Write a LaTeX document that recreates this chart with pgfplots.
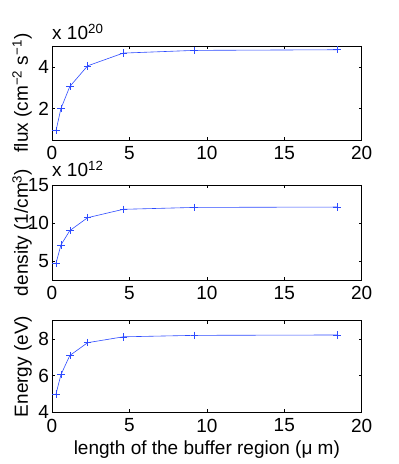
\documentclass[border=0pt]{standalone}
\usepackage{fontspec}
\setmainfont{Liberation Sans}
\usepackage{pgfplots}
\pgfplotsset{compat=1.18}
\definecolor{matblue}{RGB}{45,75,255}

% buffer length (um) and the three quantities
\pgfplotstableread{
x      flux  dens   en
0.26   0.95  4.70   5.00
0.575  2.00  7.10   6.05
1.15   3.06  9.00   7.10
2.30   4.05  10.70  7.80
4.60   4.66  11.80  8.12
9.20   4.79  12.05  8.20
18.40  4.82  12.10  8.22
}\buffertab

\newcommand{\bigfont}{\fontsize{19}{22}\selectfont}

\pgfplotsset{
  matfig/.style={
    scale only axis, width=309.7pt,
    xmin=0, xmax=20, xtick={0,5,10,15,20},
    tick align=inside, major tick length=3pt,
    axis line style={line width=0.5pt},
    every tick/.style={black, line width=0.5pt},
    font=\bigfont,
    tick label style={font=\bigfont},
    /pgf/number format/assume math mode=true,
    scaled ticks=false,
    clip mode=individual,
    xticklabel style={yshift=-3pt},
    yticklabel style={xshift=0.5pt},
    every axis y label/.style={at={(axis description cs:-0.0775,0.5)}, rotate=90, anchor=base},
    every axis x label/.style={at={(rel axis cs:0.5,0)}, anchor=base, yshift=-41.7pt},
    anchor=south west,
  },
  curve/.style={matblue, line width=0.6pt, mark=+, mark size=3.7pt},
}

\begin{document}
\begin{tikzpicture}[x=1pt,y=1pt]
\useasboundingbox (0,0) rectangle (399,464);

\begin{axis}[matfig, at={(52pt,324pt)}, height=94pt,
  ymin=0.5, ymax=5, ytick={2,4},
  ylabel={flux (cm\textsuperscript{−2} s\textsuperscript{−1})}]
\addplot[curve] table[x=x, y=flux] {\buffertab};
\node[anchor=base west, inner sep=0pt, yshift=6pt, font=\bigfont]
  at (rel axis cs:0,1) {x 10\textsuperscript{20}};
\end{axis}

\begin{axis}[matfig, at={(52pt,184pt)}, height=95pt,
  ymin=2.5, ymax=15, ytick={5,10,15},
  ylabel={density (1/cm\textsuperscript{3})}]
\addplot[curve] table[x=x, y=dens] {\buffertab};
\node[anchor=base west, inner sep=0pt, yshift=8pt, font=\bigfont]
  at (rel axis cs:0,1) {x 10\textsuperscript{12}};
\end{axis}

\begin{axis}[matfig, at={(52pt,51.7pt)}, height=91.6pt,
  ymin=4, ymax=9, ytick={4,6,8},
  ylabel={Energy (eV)},
  xlabel={length of the buffer region (μ m)}]
\addplot[curve] table[x=x, y=en] {\buffertab};
\end{axis}
\end{tikzpicture}
\end{document}
